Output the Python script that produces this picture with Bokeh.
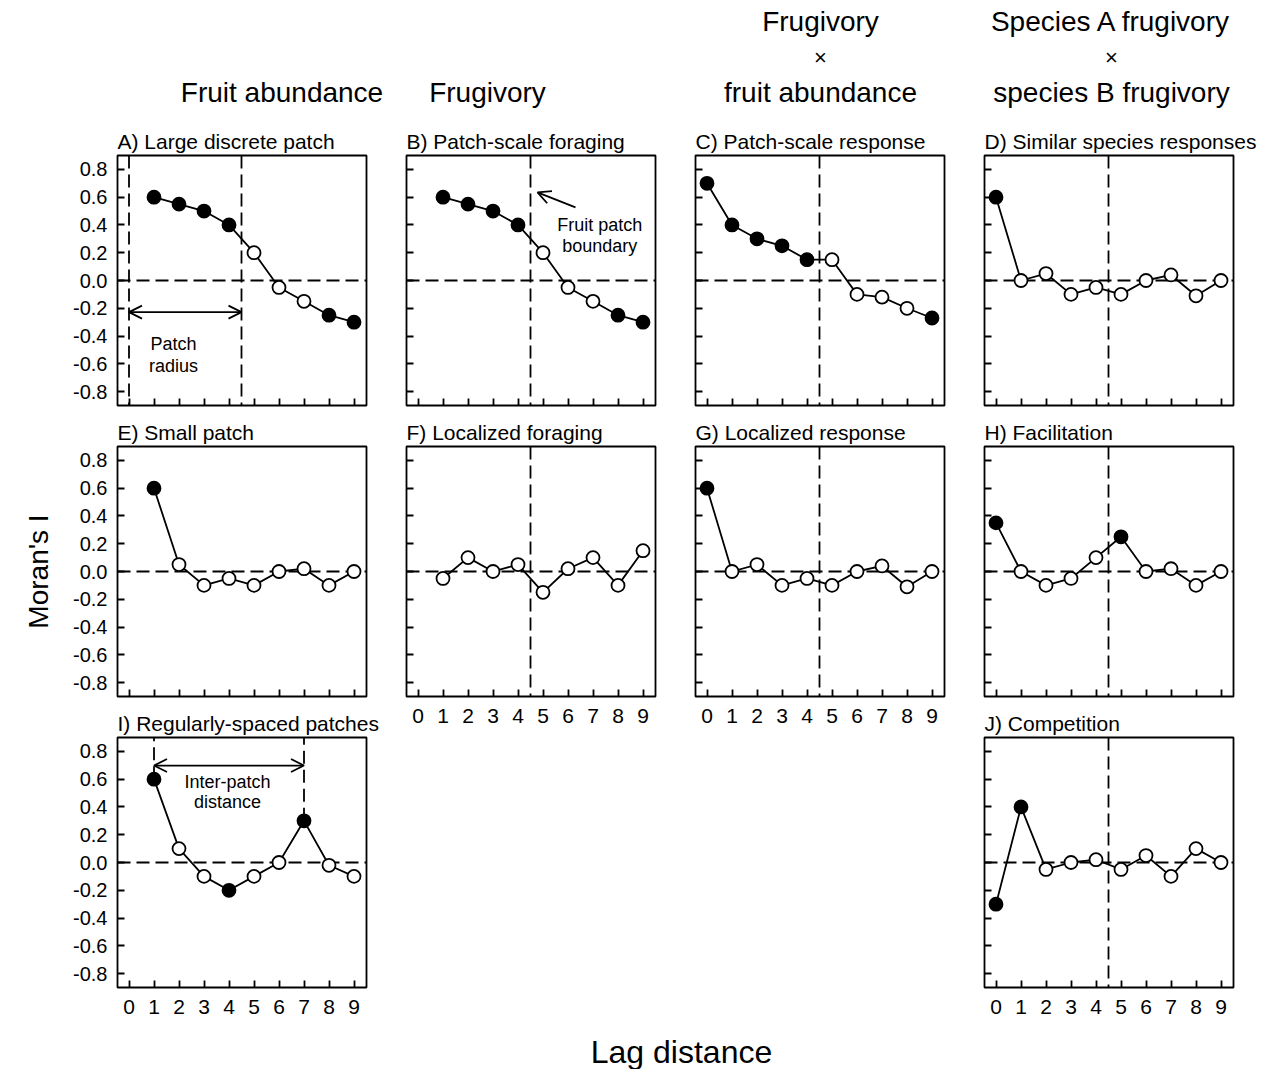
import math
from bokeh.plotting import figure
from bokeh.layouts import row, column
from bokeh.models import Range1d, FixedTicker, Span, Label, Arrow, OpenHead
from bokeh.embed import file_html
from bokeh.resources import INLINE

FONT = "Liberation Sans"

# ---------------- data ----------------
y_ticks = [-0.8, -0.6, -0.4, -0.2, 0.0, 0.2, 0.4, 0.6, 0.8]
y_tick_labels = ["-0.8", "-0.6", "-0.4", "-0.2", "0.0", "0.2", "0.4", "0.6", "0.8"]
x_ticks = [0, 1, 2, 3, 4, 5, 6, 7, 8, 9]

A_lag = [1, 2, 3, 4, 5, 6, 7, 8, 9]
A_I = [0.60, 0.55, 0.50, 0.40, 0.20, -0.05, -0.15, -0.25, -0.30]
A_sig = [1, 1, 1, 1, 0, 0, 0, 1, 1]

B_lag = [1, 2, 3, 4, 5, 6, 7, 8, 9]
B_I = [0.60, 0.55, 0.50, 0.40, 0.20, -0.05, -0.15, -0.25, -0.30]
B_sig = [1, 1, 1, 1, 0, 0, 0, 1, 1]

C_lag = [0, 1, 2, 3, 4, 5, 6, 7, 8, 9]
C_I = [0.70, 0.40, 0.30, 0.25, 0.15, 0.15, -0.10, -0.12, -0.20, -0.27]
C_sig = [1, 1, 1, 1, 1, 0, 0, 0, 0, 1]

D_lag = [0, 1, 2, 3, 4, 5, 6, 7, 8, 9]
D_I = [0.60, 0.00, 0.05, -0.10, -0.05, -0.10, 0.00, 0.04, -0.11, 0.00]
D_sig = [1, 0, 0, 0, 0, 0, 0, 0, 0, 0]

E_lag = [1, 2, 3, 4, 5, 6, 7, 8, 9]
E_I = [0.60, 0.05, -0.10, -0.05, -0.10, 0.00, 0.02, -0.10, 0.00]
E_sig = [1, 0, 0, 0, 0, 0, 0, 0, 0]

F_lag = [1, 2, 3, 4, 5, 6, 7, 8, 9]
F_I = [-0.05, 0.10, 0.00, 0.05, -0.15, 0.02, 0.10, -0.10, 0.15]
F_sig = [0, 0, 0, 0, 0, 0, 0, 0, 0]

G_lag = [0, 1, 2, 3, 4, 5, 6, 7, 8, 9]
G_I = [0.60, 0.00, 0.05, -0.10, -0.05, -0.10, 0.00, 0.04, -0.11, 0.00]
G_sig = [1, 0, 0, 0, 0, 0, 0, 0, 0, 0]

H_lag = [0, 1, 2, 3, 4, 5, 6, 7, 8, 9]
H_I = [0.35, 0.00, -0.10, -0.05, 0.10, 0.25, 0.00, 0.02, -0.10, 0.00]
H_sig = [1, 0, 0, 0, 0, 1, 0, 0, 0, 0]

I_lag = [1, 2, 3, 4, 5, 6, 7, 8, 9]
I_I = [0.60, 0.10, -0.10, -0.20, -0.10, 0.00, 0.30, -0.02, -0.10]
I_sig = [1, 0, 0, 1, 0, 0, 1, 0, 0]
I_peak_idx = [0, 6]

J_lag = [0, 1, 2, 3, 4, 5, 6, 7, 8, 9]
J_I = [-0.30, 0.40, -0.05, 0.00, 0.02, -0.05, 0.05, -0.10, 0.10, 0.00]
J_sig = [1, 1, 0, 0, 0, 0, 0, 0, 0, 0]

patch_boundary = 4.5
patch_radius_start = 0.0

titles = {
    "A": "A) Large discrete patch", "B": "B) Patch-scale foraging",
    "C": "C) Patch-scale response", "D": "D) Similar species responses",
    "E": "E) Small patch", "F": "F) Localized foraging",
    "G": "G) Localized response", "H": "H) Facilitation",
    "I": "I) Regularly-spaced patches", "J": "J) Competition",
}
header_col1 = ["Fruit abundance"]
header_col2 = ["Frugivory"]
header_col3 = ["Frugivory", "\u00d7", "fruit abundance"]
header_col4 = ["Species A frugivory", "\u00d7", "species B frugivory"]
y_title = "Moran's I"
x_title = "Lag distance"

# ---------------- layout constants ----------------
FW, FH = 249, 250
X0, X1 = -0.46, 9.5
Y0, Y1 = -0.9, 0.9
DASH = "13 6"
LW = 1.8
TOP = 34


def panel(key, lag, vals, sig, left, right, top, bottom, ylab, xlab, boundary=True):
    p = figure(width=left + FW + right, height=top + FH + bottom,
               x_range=Range1d(X0, X1), y_range=Range1d(Y0, Y1),
               output_backend="svg", toolbar_location=None,
               min_border_left=left, min_border_right=right,
               min_border_top=top, min_border_bottom=bottom)
    p.title.text = titles[key]
    p.title.align = "left"
    p.title.text_font = FONT
    p.title.text_font_size = "21px"
    p.title.text_font_style = "normal"
    p.title.text_color = "black"
    p.title.standoff = 6
    p.title.offset = 0
    p.grid.visible = False
    p.outline_line_color = "black"
    p.outline_line_width = LW
    p.background_fill_color = "white"
    p.border_fill_color = "white"
    p.xaxis.ticker = FixedTicker(ticks=x_ticks)
    p.yaxis.ticker = FixedTicker(ticks=y_ticks)
    for ax in (p.xaxis[0], p.yaxis[0]):
        ax.axis_line_color = None
        ax.major_tick_in = 7
        ax.major_tick_out = 0
        ax.major_tick_line_width = LW
        ax.major_tick_line_color = "black"
        ax.minor_tick_line_color = None
        ax.major_label_text_font = FONT
        ax.major_label_text_color = "black"
    if ylab:
        p.yaxis.major_label_overrides = {t: s for t, s in zip(y_ticks, y_tick_labels)}
        p.yaxis.major_label_text_font_size = "20px"
        p.yaxis.major_label_standoff = 10
    else:
        p.yaxis.major_label_overrides = {t: "" for t in y_ticks}
        p.yaxis.major_label_text_font_size = "0px"
        p.yaxis.major_label_standoff = 0
    if xlab:
        p.xaxis.major_label_text_font_size = "21px"
        p.xaxis.major_label_standoff = 12
    else:
        p.xaxis.major_label_overrides = {t: "" for t in x_ticks}
        p.xaxis.major_label_text_font_size = "0px"
        p.xaxis.major_label_standoff = 0

    p.add_layout(Span(location=0, dimension="width", line_dash=DASH,
                      line_width=LW, line_color="black", level="underlay"))
    if boundary:
        p.add_layout(Span(location=patch_boundary, dimension="height", line_dash=DASH,
                          line_width=LW, line_color="black", level="underlay"))

    p.line(lag, vals, line_color="black", line_width=LW)
    fill = ["black" if s else "white" for s in sig]
    p.scatter(lag, vals, size=13, marker="circle", fill_color=fill,
              line_color="black", line_width=LW)
    return p


def note(p, x, y, text):
    p.add_layout(Label(x=x, y=y, text=text, text_font=FONT, text_font_size="18px",
                       text_color="black", text_align="center", text_baseline="middle"))


# column 1
pA = panel("A", A_lag, A_I, A_sig, 57, 20, TOP, 7, True, False, boundary=False)
for loc in (patch_radius_start, patch_boundary):
    pA.add_layout(Span(location=loc, dimension="height", line_dash=DASH,
                       line_width=LW, line_color="black", level="underlay"))
pA.add_layout(Arrow(start=OpenHead(size=13, line_width=LW), end=OpenHead(size=13, line_width=LW),
                    x_start=patch_radius_start, y_start=-0.228, x_end=patch_boundary, y_end=-0.228,
                    line_width=LW, line_color="black"))
note(pA, 1.78, -0.46, "Patch")
note(pA, 1.78, -0.612, "radius")

pE = panel("E", E_lag, E_I, E_sig, 57, 20, TOP, 7, True, False, boundary=False)

pI = panel("I", I_lag, I_I, I_sig, 57, 20, TOP, 38, True, True, boundary=False)
pk_x = [I_lag[i] for i in I_peak_idx]
pk_y = [I_I[i] for i in I_peak_idx]
pI.segment(x0=pk_x, y0=pk_y, x1=pk_x, y1=[Y1] * len(pk_x), line_dash=DASH,
           line_width=LW, line_color="black", level="underlay")
pI.add_layout(Arrow(start=OpenHead(size=13, line_width=LW), end=OpenHead(size=13, line_width=LW),
                    x_start=pk_x[0], y_start=0.698, x_end=pk_x[1], y_end=0.698,
                    line_width=LW, line_color="black"))
note(pI, 3.94, 0.578, "Inter-patch")
note(pI, 3.94, 0.439, "distance")

# column 2
pB = panel("B", B_lag, B_I, B_sig, 20, 20, TOP, 7, False, False)
pB.add_layout(Arrow(end=OpenHead(size=13, line_width=LW),
                    x_start=6.30, y_start=0.526, x_end=4.78, y_end=0.634,
                    line_width=LW, line_color="black"))
note(pB, 7.27, 0.403, "Fruit patch")
note(pB, 7.27, 0.252, "boundary")
pF = panel("F", F_lag, F_I, F_sig, 20, 20, TOP, 38, False, True)

# column 3
pC = panel("C", C_lag, C_I, C_sig, 20, 20, TOP, 7, False, False)
pG = panel("G", G_lag, G_I, G_sig, 20, 20, TOP, 38, False, True)

# column 4
pD = panel("D", D_lag, D_I, D_sig, 20, 28, TOP, 7, False, False)
pH = panel("H", H_lag, H_I, H_sig, 20, 28, TOP, 7, False, False)
pJ = panel("J", J_lag, J_I, J_sig, 20, 28, TOP, 38, False, True)


def blank(w, h, xr, yr):
    f = figure(width=w, height=h, x_range=Range1d(*xr), y_range=Range1d(*yr),
               x_axis_location=None, y_axis_location=None,
               output_backend="svg", toolbar_location=None, min_border=0)
    f.grid.visible = False
    f.outline_line_color = None
    return f


def htext(f, x, y, text, size="28px", angle=0.0):
    f.add_layout(Label(x=x, y=y, text=text, text_font=FONT, text_font_size=size,
                       text_color="black", text_align="center", text_baseline="middle",
                       angle=angle))


TOTAL_W = 60 + 326 + 289 + 289 + 297
hdr = blank(TOTAL_W, 121, (0, TOTAL_W), (121, 0))
htext(hdr, 281.5, 92, header_col1[0])
htext(hdr, 487, 92, header_col2[0])
for txt, yy in zip(header_col3, (21, 57, 92)):
    htext(hdr, 820, yy, txt, size="22px" if txt == "\u00d7" else "28px")
for txt, yy in zip(header_col4, (21, 57, 92)):
    htext(hdr, 1111, yy, txt, size="22px" if txt == "\u00d7" else "28px")

ylab = blank(60, 904, (0, 60), (1025, 121))
htext(ylab, 38, 571, y_title, size="28px", angle=math.pi / 2)

xlab = blank(TOTAL_W, 44, (0, TOTAL_W), (1069, 1025))
htext(xlab, 681, 1051, x_title, size="32px")

grid = row(ylab, column(pA, pE, pI), column(pB, pF), column(pC, pG), column(pD, pH, pJ))
layout = column(hdr, grid, xlab)

open("out.html", "w").write(file_html(layout, INLINE))
